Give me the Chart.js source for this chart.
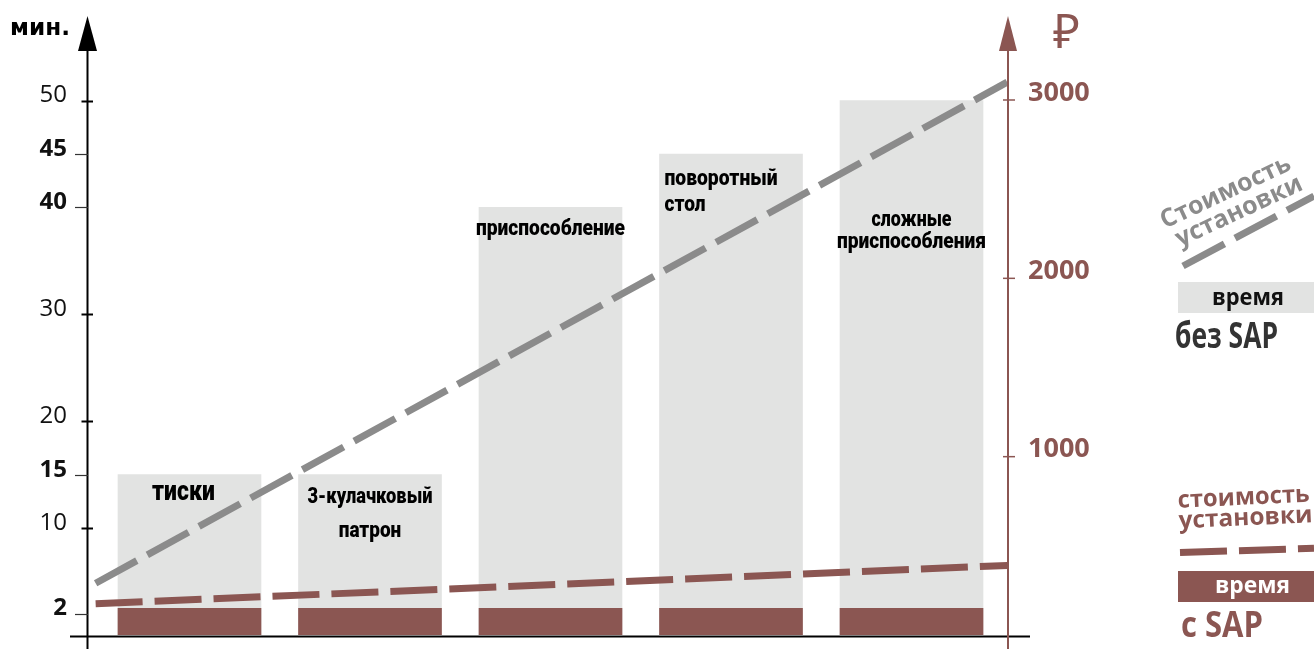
<!DOCTYPE html>
<html>
<head>
<meta charset="utf-8">
<script src="https://cdn.jsdelivr.net/npm/chart.js@4/dist/chart.umd.min.js"></script>
<style>
  html, body { margin: 0; padding: 0; background: #fff; }
  #wrap { width: 1314px; height: 649px; position: relative; }
</style>
</head>
<body>
<div id="wrap"><canvas id="c" width="1314" height="649"></canvas></div>
<script>
// ---------- DATA ----------
const categories = [
  ['тиски'],
  ['3-кулачковый', 'патрон'],
  ['приспособление'],
  ['поворотный', 'стол'],
  ['сложные', 'приспособления']
];
const timeWithoutSAP = [15, 15, 40, 45, 50];      // мин.
const timeWithSAP = [2.5, 2.5, 2.5, 2.5, 2.5];     // мин.
const costLineX = [-0.52, 4.53];                  // start / end of the cost trend (category index units)
const costWithoutSAP = [290, 3100];               // ₽
const costWithSAP = [175, 390];                   // ₽
const minuteTicks = [2, 10, 15, 20, 30, 40, 45, 50];
const boldMinuteTicks = [2, 15, 40, 45];
const costTicks = [1000, 2000, 3000];

// ---------- STYLE ----------
const BROWN = '#8b5652';
const GREY_BAR = '#e2e3e2';
const GREY_LINE = '#8b8b8b';
const LABEL_FONT = 'Roboto, "Open Sans", sans-serif';
const labelLayout = [
  { align: 'center', dx: -6, size: 28, xh: 15, dy: [17.5], w: [63] },
  { align: 'center', dx: 0, size: 22, xh: 12, dy: [22.5, 56], w: [125, 62.5] },
  { align: 'center', dx: 0, size: 22, xh: 12, dy: [22], w: [149] },
  { align: 'left', dx: 5, size: 22, xh: 12, dy: [25, 51], w: [113, 41] },
  { align: 'center', dx: 0, size: 22, xh: 12, dy: [119.5, 141.5], w: [80, 149] }
];

function fitText(ctx, text, x, y, width, align) {
  const m = ctx.measureText(text).width;
  const s = width / m;
  ctx.save();
  ctx.translate(x, y);
  ctx.scale(s, 1);
  ctx.textAlign = align;
  ctx.textBaseline = 'alphabetic';
  ctx.fillText(text, 0, 0);
  ctx.restore();
}
function dashLine(ctx, x1, y1, x2, y2, color) {
  ctx.save();
  ctx.strokeStyle = color;
  ctx.lineWidth = 7;
  ctx.lineCap = 'butt';
  ctx.setLineDash([47, 12]);
  ctx.beginPath();
  ctx.moveTo(x1, y1);
  ctx.lineTo(x2, y2);
  ctx.stroke();
  ctx.restore();
}
function fixFit(width) {
  return s => { s.width = width; s.paddingTop = 0; s.paddingBottom = 0; };
}

const deco = {
  id: 'deco',
  afterDatasetsDraw(chart) {
    const ctx = chart.ctx;
    const meta = chart.getDatasetMeta(0);
    meta.data.forEach((bar, i) => {
      const L = labelLayout[i];
      ctx.save();
      ctx.fillStyle = '#000';
      ctx.font = '900 ' + L.size + 'px ' + LABEL_FONT;
      categories[i].forEach((line, j) => {
        const yb = bar.y + L.dy[j] + L.xh / 2;
        const x = L.align === 'left' ? bar.x - bar.width / 2 + L.dx : bar.x + L.dx;
        fitText(ctx, line, x, yb, L.w[j], L.align);
      });
      ctx.restore();
    });
  },
  afterDraw(chart) {
    const ctx = chart.ctx;
    const { left, right } = chart.chartArea;
    const y = chart.scales.y, y2 = chart.scales.y2;
    ctx.save();
    // left axis
    ctx.strokeStyle = '#000';
    ctx.lineWidth = 2;
    ctx.beginPath(); ctx.moveTo(left - 0.5, 48); ctx.lineTo(left - 0.5, 649); ctx.stroke();
    ctx.fillStyle = '#000';
    ctx.beginPath(); ctx.moveTo(left - 0.5, 16); ctx.lineTo(left - 10, 51); ctx.lineTo(left + 9, 51); ctx.closePath(); ctx.fill();
    // x axis
    const yz = y.getPixelForValue(0) + 1.5;
    ctx.beginPath(); ctx.moveTo(70, yz); ctx.lineTo(1030, yz); ctx.stroke();
    // left ticks
    minuteTicks.forEach(v => {
      const py = Math.round(y.getPixelForValue(v)) + 0.5;
      ctx.beginPath();
      if (boldMinuteTicks.includes(v)) {
        ctx.lineWidth = 1.2; ctx.strokeStyle = '#333';
        ctx.moveTo(left - 13, py); ctx.lineTo(left, py);
      } else {
        ctx.lineWidth = 2; ctx.strokeStyle = '#000';
        ctx.moveTo(left - 6.5, py); ctx.lineTo(left + 5, py);
      }
      ctx.stroke();
    });
    // мин.
    ctx.fillStyle = '#000';
    ctx.font = 'bold 23px "DejaVu Sans", sans-serif';
    fitText(ctx, 'мин.', 10, 35, 60, 'left');

    // right axis
    ctx.strokeStyle = BROWN; ctx.fillStyle = BROWN;
    ctx.lineWidth = 2;
    ctx.beginPath(); ctx.moveTo(right, 48); ctx.lineTo(right, 649); ctx.stroke();
    ctx.beginPath(); ctx.moveTo(right, 16); ctx.lineTo(right - 9, 51); ctx.lineTo(right + 9, 51); ctx.closePath(); ctx.fill();
    costTicks.forEach(v => {
      const py = y2.getPixelForValue(v);
      ctx.lineWidth = 1.5;
      ctx.beginPath(); ctx.moveTo(right - 5, py); ctx.lineTo(right + 7, py); ctx.stroke();
    });
    ctx.font = '48px "Noto Sans", "DejaVu Sans", sans-serif';
    fitText(ctx, '₽', 1053, 48, 27, 'left');

    // ----- legend: без SAP -----
    ctx.save();
    ctx.translate(1226, 193);
    ctx.rotate(-25 * Math.PI / 180);
    ctx.fillStyle = GREY_LINE;
    ctx.font = 'bold 25px "Open Sans", sans-serif';
    fitText(ctx, 'Стоимость', 0, 6.5, 141, 'center');
    fitText(ctx, 'установки', 4, 29.5, 137, 'center');
    ctx.restore();
    dashLine(ctx, 1183, 266, 1314, 196, GREY_LINE);
    ctx.fillStyle = GREY_BAR;
    ctx.fillRect(1178, 282, 136, 31);
    ctx.fillStyle = '#111';
    ctx.font = 'bold 24px "Open Sans", sans-serif';
    fitText(ctx, 'время', 1248, 304.5, 72, 'center');
    ctx.fillStyle = '#333';
    ctx.font = 'bold 35px "Open Sans", sans-serif';
    fitText(ctx, 'без SAP', 1175, 348, 103, 'left');

    // ----- legend: с SAP -----
    ctx.save();
    ctx.translate(1178, 507.7);
    ctx.rotate(-2.6 * Math.PI / 180);
    ctx.fillStyle = BROWN;
    ctx.font = 'bold 24px "Open Sans", sans-serif';
    fitText(ctx, 'стоимость', 0, 0, 132, 'left');
    fitText(ctx, 'установки', 0, 20.6, 134, 'left');
    ctx.restore();
    dashLine(ctx, 1180, 552.5, 1314, 548.3, BROWN);
    ctx.fillStyle = BROWN;
    ctx.fillRect(1178, 571, 136, 31);
    ctx.fillStyle = '#fff';
    ctx.font = 'bold 24px "Open Sans", sans-serif';
    fitText(ctx, 'время', 1252.5, 593, 75, 'center');
    ctx.fillStyle = BROWN;
    ctx.font = 'bold 35px "Open Sans", sans-serif';
    fitText(ctx, 'с SAP', 1181, 636.7, 82, 'left');
    ctx.restore();
  }
};

const xy = (xs, ys) => ys.map((v, i) => ({ x: xs[i], y: v }));
const idx = timeWithoutSAP.map((_, i) => i);

new Chart(document.getElementById('c'), {
  type: 'bar',
  data: {
    datasets: [
      { type: 'bar', label: 'время без SAP', data: xy(idx, timeWithoutSAP), backgroundColor: GREY_BAR,
        barThickness: 143, grouped: false, order: 3, yAxisID: 'y', xAxisID: 'x' },
      { type: 'bar', label: 'время с SAP', data: xy(idx, timeWithSAP), backgroundColor: BROWN,
        barThickness: 143, grouped: false, order: 2, yAxisID: 'y', xAxisID: 'x' },
      { type: 'line', label: 'стоимость установки без SAP', data: xy(costLineX, costWithoutSAP),
        borderColor: GREY_LINE, borderWidth: 7, borderDash: [47, 12], borderCapStyle: 'butt',
        pointRadius: 0, fill: false, tension: 0, order: 1, yAxisID: 'y2', xAxisID: 'x' },
      { type: 'line', label: 'стоимость установки с SAP', data: xy(costLineX, costWithSAP),
        borderColor: BROWN, borderWidth: 7, borderDash: [47, 12], borderCapStyle: 'butt',
        pointRadius: 0, fill: false, tension: 0, order: 0, yAxisID: 'y2', xAxisID: 'x' }
    ]
  },
  options: {
    responsive: false,
    animation: false,
    events: [],
    layout: { padding: { left: 0, right: 166, top: 30, bottom: 14 } },
    plugins: { legend: { display: false }, tooltip: { enabled: false } },
    scales: {
      x: { type: 'linear', offset: false, min: -0.5623, max: 4.5346, display: false,
           afterFit: s => { s.height = 0; s.paddingLeft = 0; s.paddingRight = 0; } },
      y: {
        position: 'left', min: 0, max: 56.6,
        afterFit: fixFit(88),
        afterBuildTicks: s => { s.ticks = minuteTicks.map(v => ({ value: v })); },
        grid: { display: false, drawTicks: false }, border: { display: false },
        ticks: {
          autoSkip: false, padding: 21, labelOffset: -5, color: '#111',
          callback: v => String(v),
          font: c => ({ family: '"Open Sans", sans-serif', size: 24,
                        weight: boldMinuteTicks.includes(c.tick && c.tick.value) ? 'bold' : 'normal' })
        }
      },
      y2: {
        position: 'right', min: 0, max: 3392.5,
        afterFit: fixFit(140),
        afterBuildTicks: s => { s.ticks = costTicks.map(v => ({ value: v })); },
        grid: { display: false, drawTicks: false }, border: { display: false },
        ticks: {
          autoSkip: false, padding: 20, labelOffset: -7, color: BROWN,
          callback: v => String(v),
          font: { family: '"Open Sans", sans-serif', size: 27, weight: 'bold' }
        }
      }
    }
  },
  plugins: [deco]
});
</script>
</body>
</html>
